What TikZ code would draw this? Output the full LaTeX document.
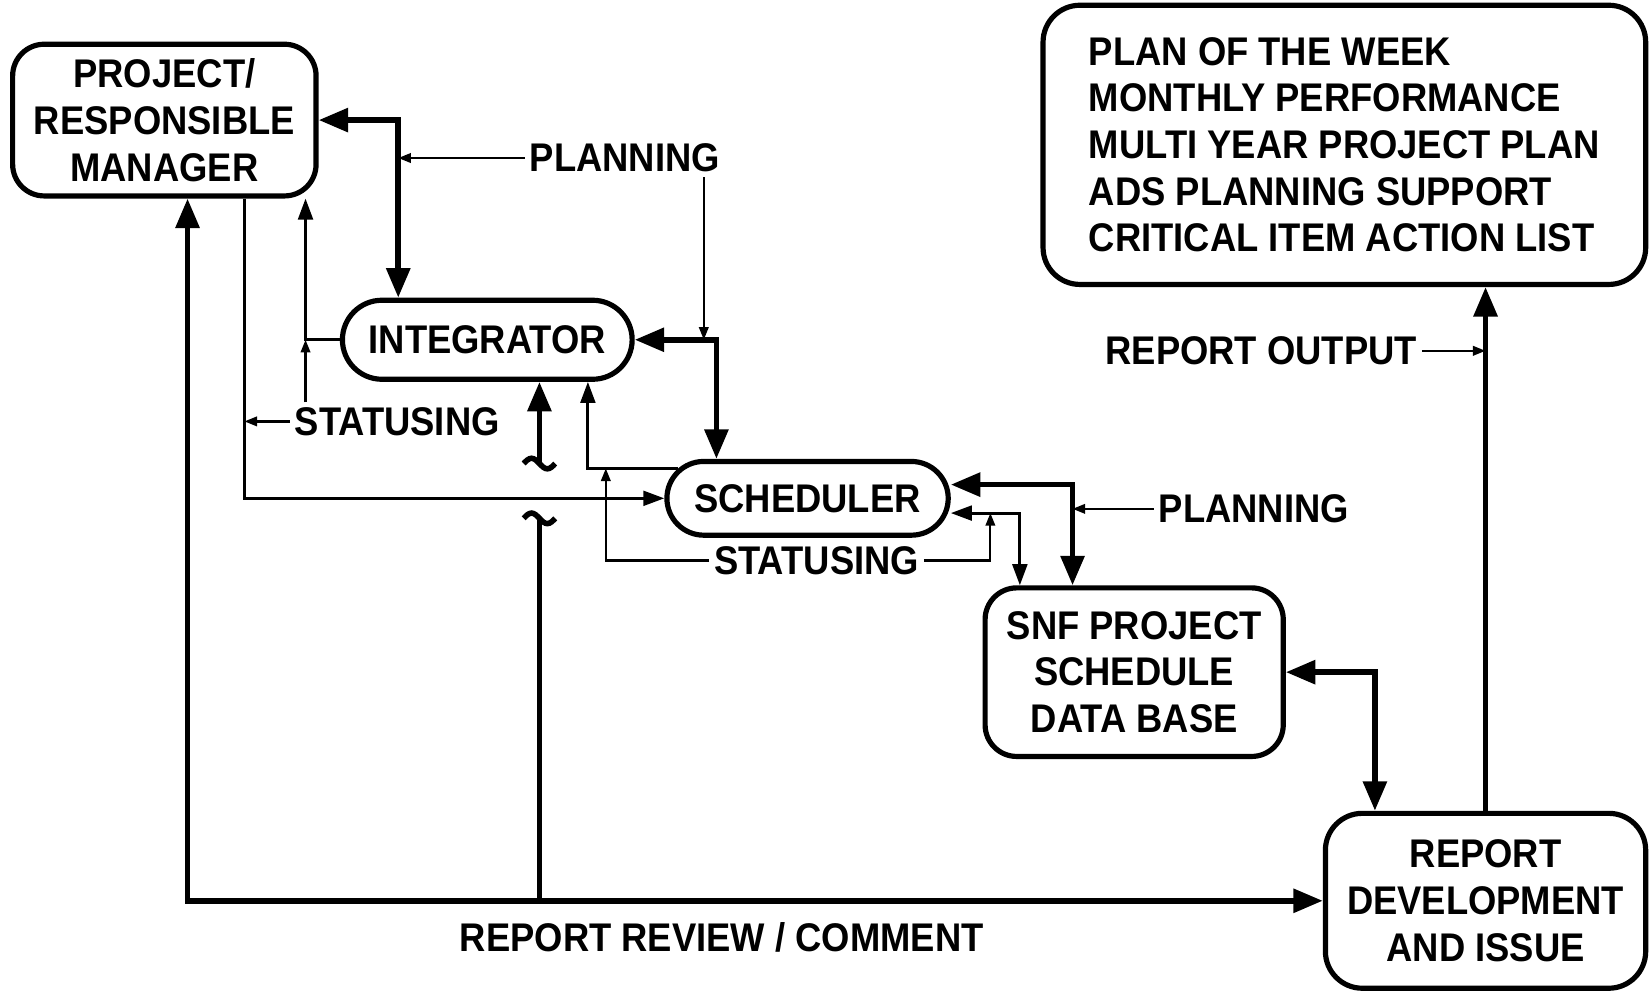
\documentclass[tikz,border=0pt]{standalone}
\usepackage{fontspec}
\setmainfont{Liberation Sans}[FakeStretch=0.91]
\usetikzlibrary{arrows.meta,shapes.misc,calc}
\tikzset{
  txt/.style = {font=\bfseries\fontsize{10.8}{12.6}\selectfont},
  box/.style = {txt, draw, line width=1.4pt, rounded corners=0.3cm, align=center, inner sep=0pt},
  pill/.style = {txt, draw, line width=1.4pt, rounded rectangle, inner sep=0pt},
  tag/.style = {txt, inner sep=0.04cm}
}
\tikzset{
  heavy/.style = {line width=1.5pt, >={Triangle[length=0.28cm,width=0.22cm]}},
  light/.style = {line width=0.8pt, >={Triangle[length=0.2cm,width=0.14cm]}},
  feed/.style = {line width=0.6pt, >={Triangle[length=0.12cm,width=0.09cm]}}
}
% break mark on a crossing line
\def\wavemark(#1);%
{
  \draw[heavy] ($(#1)+(-0.15,0)$) sin ++(0.075,0.05) cos ++(0.075,-0.05) sin ++(0.075,-0.05) cos ++(0.075,0.05);
}

\begin{document}
\begin{tikzpicture}
  \useasboundingbox (0,0) rectangle (15.68,9.42);
  % boxes
  \node[box,minimum width=2.88cm,minimum height=1.44cm] (pm) at (1.56,8.28) {PROJECT/\\RESPONSIBLE\\MANAGER};
  \node[box,align=left,rounded corners=0.35cm,minimum width=5.72cm,minimum height=2.65cm] (plan) at (12.76,8.045)
    {PLAN OF THE WEEK\\MONTHLY PERFORMANCE\\MULTI YEAR PROJECT PLAN\\ADS PLANNING SUPPORT\\CRITICAL ITEM ACTION LIST};
  \node[pill,minimum width=2.75cm,minimum height=0.75cm] (integ) at (4.625,6.195) {INTEGRATOR};
  \node[pill,minimum width=2.67cm,minimum height=0.70cm] (sched) at (7.665,4.69) {SCHEDULER};
  \node[box,minimum width=2.83cm,minimum height=1.60cm] (snf) at (10.765,3.04) {SNF PROJECT\\SCHEDULE\\DATA BASE};
  \node[box,rounded corners=0.35cm,minimum width=3.04cm,minimum height=1.66cm] (rdev) at (14.10,0.87) {REPORT\\DEVELOPMENT\\AND ISSUE};
  % labels
  \node[tag] (plan1) at (5.93,7.92) {PLANNING};
  \node[tag] (stat1) at (3.77,5.42) {STATUSING};
  \node[tag] (stat2) at (7.75,4.10) {STATUSING};
  \node[tag] (plan2) at (11.90,4.59) {PLANNING};
  \node[tag] (repout) at (11.97,6.09) {REPORT OUTPUT};
  \node[tag] (review) at (6.85,0.52) {REPORT REVIEW / COMMENT};
  % corners
  \coordinate (pi) at ([xshift=-0.845cm]integ.north);
  \coordinate (is) at ([xshift=-0.865cm]sched.north);
  \coordinate (ss) at ([xshift=-0.585cm]snf.north);
  \coordinate (ssl) at ([xshift=-1.085cm]snf.north);
  \coordinate (sr) at ([xshift=-1.05cm]rdev.north);
  \coordinate (pmr) at ([xshift=0.22cm]pm.south);
  \coordinate (pms) at ([xshift=0.76cm]pm.south);
  \coordinate (pmi) at ([xshift=1.34cm]pm.south);
  \coordinate (si) at ([xshift=0.955cm]integ.south);
  \coordinate (ts) at ([yshift=-0.14cm]sched.east);
  \coordinate (lo) at (5.12,4.50);
  \coordinate (hi) at (5.12,5.02);
  \coordinate (sl) at (5.75,0);
  \coordinate (sr2) at (9.40,0);
  % main flow
  \draw[heavy,<->] (pm.east) -| (pi);
  \draw[heavy,<->] (integ.east) -| (is);
  \draw[heavy,<->] ([yshift=0.13cm]sched.east) -| (ss);
  \draw[heavy,<->] (snf.east) -| (sr);
  \draw[heavy,->] (rdev.north) -- (rdev.north |- plan.south);
  \draw[heavy,<->] (pmr) |- (rdev.west);
  % review line, broken at the crossing
  \draw[heavy] (lo |- rdev.west) -- (lo);
  \draw[heavy,->] (hi) -- (hi |- integ.south);
  \wavemark(lo);
  \wavemark(hi);
  % status lines
  \draw[light,->] (integ.west) -| (pmi);
  \draw[light,->] (pms) |- (sched.west);
  \draw[light,->] (sched.167) -| (si);
  \draw[light,<->] (ts) -| (ssl);
  % label feeds
  \draw[feed,->] (plan1.west) -- (plan1.west -| pi);
  \draw[feed,->] ([xshift=0.75cm]plan1.south) -- ([xshift=0.75cm]plan1.south |- integ.east);
  \draw[feed,->] (stat1.north -| pmi) -- (pmi |- integ.west);
  \draw[feed,->] (stat1.west) -- (stat1.west -| pms);
  \draw[feed,->] (stat2.west) -| (sl |- sched.167);
  \draw[feed,->] (stat2.east) -| (sr2 |- ts);
  \draw[feed,->] (plan2.west) -- (plan2.west -| ss);
  \draw[feed,->] (repout.east) -- (repout.east -| rdev.north);
\end{tikzpicture}
\end{document}
